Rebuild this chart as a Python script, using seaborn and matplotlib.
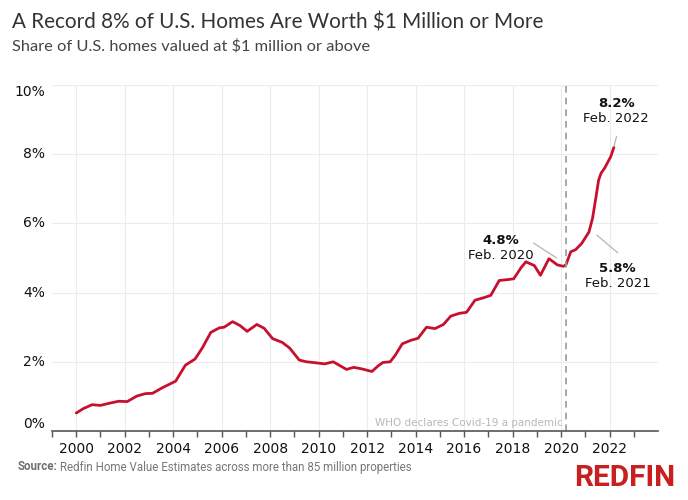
import numpy as np
import pandas as pd
import matplotlib
matplotlib.use("Agg")
import matplotlib.pyplot as plt
import matplotlib.transforms as mtransforms
import seaborn as sns

# data (decimal year, % of homes worth $1M+)
years = [2000.0, 2000.3, 2000.65, 2001.0, 2001.35, 2001.75, 2002.1, 2002.5,
         2002.85, 2003.15, 2003.55, 2004.1, 2004.5, 2004.9, 2005.2, 2005.55,
         2005.9, 2006.1, 2006.45, 2006.75, 2007.05, 2007.45, 2007.75, 2008.1,
         2008.5, 2008.8, 2009.2, 2009.5, 2009.9, 2010.25, 2010.6, 2011.15,
         2011.45, 2011.75, 2012.2, 2012.45, 2012.65, 2012.95, 2013.15, 2013.45,
         2013.8, 2014.1, 2014.45, 2014.8, 2015.15, 2015.45, 2015.8, 2016.1,
         2016.45, 2016.8, 2017.1, 2017.45, 2017.85, 2018.05, 2018.35, 2018.55,
         2018.9, 2019.15, 2019.5, 2019.85, 2020.1, 2020.2, 2020.4, 2020.6,
         2020.85, 2021.15, 2021.3, 2021.45, 2021.55, 2021.65, 2021.8, 2022.05,
         2022.18]
share = [0.52, 0.65, 0.76, 0.74, 0.80, 0.86, 0.85, 1.01,
         1.08, 1.09, 1.25, 1.44, 1.90, 2.08, 2.40, 2.85,
         2.98, 3.00, 3.16, 3.05, 2.88, 3.08, 2.97, 2.67,
         2.56, 2.40, 2.05, 2.00, 1.97, 1.94, 2.00, 1.78,
         1.84, 1.80, 1.72, 1.88, 1.98, 2.00, 2.18, 2.52,
         2.62, 2.68, 3.00, 2.96, 3.08, 3.32, 3.40, 3.43,
         3.78, 3.85, 3.92, 4.35, 4.38, 4.40, 4.72, 4.89,
         4.78, 4.50, 4.98, 4.80, 4.76, 4.80, 5.18, 5.24,
         5.42, 5.75, 6.15, 6.80, 7.25, 7.45, 7.60, 7.93,
         8.20]

y_ticks = [0, 2, 4, 6, 8, 10]
x_ticks = list(range(2000, 2023, 2))
covid_date = 2020.2

# callouts: (value label, date label, text x, text y, line start, line end)
callouts = [
    ("4.8%", "Feb. 2020", 2017.5, 5.3, (2018.87, 5.43), (2019.82, 5.0)),
    ("8.2%", "Feb. 2022", 2022.27, 9.25, (2022.29, 8.51), (2022.18, 8.22)),
    ("5.8%", "Feb. 2021", 2022.33, 4.48, (2021.48, 5.66), (2022.34, 5.15)),
]

df = pd.DataFrame({"year": years, "share": share})

sns.set_theme(style="whitegrid")
plt.rcParams["font.family"] = ["DejaVu Sans"]

fig = plt.figure(figsize=(6.88, 5.0), dpi=100)
fig.patch.set_facecolor("white")
ax = fig.add_axes([0.0756, 0.138, 0.8808, 0.692])

sns.lineplot(data=df, x="year", y="share", ax=ax, color="#c8102e", linewidth=2.0)

ax.set_xlim(1999, 2024)
ax.set_ylim(0, 10)
ax.set_xlabel("")
ax.set_ylabel("")

# grid and spines
ax.set_xticks(x_ticks)
ax.set_xticks(range(1999, 2025, 2), minor=True)
ax.set_yticks(y_ticks)
ax.grid(True, which="major", color="#ececec", linewidth=0.8)
ax.grid(False, which="minor")
for s in ["top", "right", "left"]:
    ax.spines[s].set_visible(False)
ax.spines["bottom"].set_color("#555555")
ax.spines["bottom"].set_linewidth(1.2)
ax.tick_params(axis="x", which="both", direction="out", length=4, width=1,
               color="#555555", labelsize=10, labelcolor="#111111", pad=4,
               bottom=True)
ax.tick_params(axis="y", left=False, labelleft=False)

# y labels, pulled inside at the ends like the original
ytrans = mtransforms.blended_transform_factory(ax.transAxes, ax.transData)
for v in y_ticks:
    va = "center"
    if v == 0:
        va = "bottom"
    elif v == 10:
        va = "top"
    ax.text(-0.012, v, f"{v}%", transform=ytrans, ha="right", va=va,
            fontsize=10, color="#111111")

# covid marker
ax.axvline(covid_date, color="#9a9a9a", linestyle=(0, (4, 3)), linewidth=1.2)
ax.text(covid_date - 0.15, 0.08, "WHO declares Covid\u201119 a pandemic",
        ha="right", va="bottom", fontsize=7.5, color="#b8b8b8")

for val, date, tx, ty, p0, p1 in callouts:
    ax.text(tx, ty + 0.03, val, ha="center", va="bottom", fontsize=9.5,
            fontweight="bold", color="#111111")
    ax.text(tx, ty - 0.03, date, ha="center", va="top", fontsize=9.5, color="#111111")
    ax.plot([p0[0], p1[0]], [p0[1], p1[1]], color="#b5b5b5", linewidth=0.9)

# titles
fig.text(0.017, 0.955, "A Record 8% of U.S. Homes Are Worth $1 Million or More",
         fontsize=14.9, color="#333333", family=["Lato", "DejaVu Sans"], va="center")
fig.text(0.017, 0.907, "Share of U.S. homes valued at $1 million or above",
         fontsize=11.8, color="#444444", family=["Lato", "DejaVu Sans"], va="center")

# footer: bold "Source:" then the rest placed right after it
src = fig.text(0.025, 0.066, "Source:", fontsize=8.3, fontweight="bold", color="#6f6f6f",
               family=["Roboto", "DejaVu Sans"], va="center")
ax.annotate(" Redfin Home Value Estimates across more than 85 million properties",
            xy=(1, 0.5), xycoords=src, va="center", ha="left",
            fontsize=8.3, color="#777777", family=["Roboto", "DejaVu Sans"],
            annotation_clip=False)
fig.text(0.982, 0.043, "REDFIN", fontsize=21.5, fontweight="bold", color="#c82021",
         family=["Roboto", "DejaVu Sans"], ha="right", va="center")

fig.savefig("out.png", dpi=100, facecolor="white")
